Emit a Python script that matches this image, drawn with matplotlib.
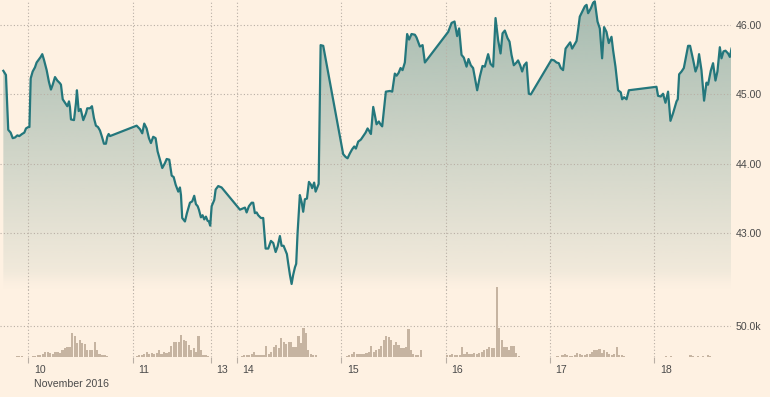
import numpy as np
import matplotlib
matplotlib.use("Agg")
import matplotlib.pyplot as plt
import matplotlib.transforms as mtransforms

plt.rcParams['font.family'] = ['Liberation Sans', 'DejaVu Sans']

# x axis in trading-session units: 0 = 10 Nov, 1 = 11 Nov, 2 = 14 Nov ...
DAY_POS = [0, 1, 1.75, 2, 3, 4, 5, 6]
DAY_LAB = ["10", "11", "13", "14", "15", "16", "17", "18"]

t = [-0.239,-0.214,-0.192,-0.169,-0.149,-0.127,-0.105,-0.086,-0.060,-0.038,-0.022,0.000,0.011,
     0.023,0.042,0.064,0.080,0.105,0.119,0.134,0.150,0.176,0.198,0.217,0.234,0.256,0.278,0.304,0.313,
     0.330,0.352,0.374,0.390,0.399,0.409,0.438,0.457,0.466,0.483,0.502,0.527,0.553,0.565,0.591,0.610,
     0.629,0.648,0.668,0.687,0.706,0.725,0.744,0.757,0.770,0.783,
     1.038,1.070,1.092,1.111,1.134,1.156,1.175,1.197,1.220,1.239,1.261,1.284,1.309,1.326,1.351,1.374,
     1.393,1.412,1.437,1.453,1.463,1.475,1.501,1.520,1.549,1.571,1.590,1.606,1.623,1.635,1.654,1.670,
     1.686,1.702,1.718,1.731,1.743,1.757,1.782,1.795,1.820,1.852,
     2.028,2.059,2.076,2.092,2.114,2.140,2.155,2.171,2.188,2.203,2.229,2.251,2.274,2.299,2.325,2.347,
     2.370,2.389,2.411,2.427,2.446,2.478,2.490,2.507,2.523,2.538,2.555,2.567,2.580,2.602,2.619,2.634,
     2.650,2.670,2.689,2.708,2.720,2.739,2.753,2.772,2.782,2.801,2.826,
     3.017,3.040,3.059,3.081,3.103,3.123,3.139,3.161,3.187,3.209,3.232,3.251,3.268,3.283,3.305,3.321,
     3.337,3.359,3.374,3.391,3.426,3.465,3.487,3.512,3.529,3.548,3.567,3.586,3.608,3.630,3.649,3.672,
     3.704,3.720,3.752,3.778,3.800,
     4.023,4.056,4.084,4.109,4.128,4.151,4.173,4.199,4.218,4.240,4.262,4.301,4.327,4.352,4.374,4.406,
     4.429,4.454,4.477,4.502,4.525,4.544,4.566,4.592,4.611,4.630,4.652,4.678,4.693,4.713,4.732,4.751,
     4.774,4.796,4.815,
     5.013,5.038,5.061,5.083,5.102,5.124,5.148,5.172,5.192,5.211,5.230,5.253,5.268,5.284,5.307,5.333,
     5.349,5.364,5.390,5.412,5.428,5.454,5.476,5.498,5.517,5.540,5.562,5.588,5.603,5.626,5.651,5.677,
     5.690,5.709,5.732,5.754,
     6.019,6.034,6.060,6.082,6.105,6.130,6.153,6.178,6.211,6.223,6.236,6.259,6.281,6.307,6.322,6.341,
     6.370,6.393,6.412,6.427,6.450,6.475,6.498,6.513,6.539,6.561,6.584,6.603,6.626,6.642,6.661,6.680,
     6.705,6.722,6.738]

price = [45.34,45.28,44.49,44.45,44.37,44.38,44.41,44.40,44.43,44.45,44.51,44.53,44.53,
         45.23,45.33,45.39,45.46,45.51,45.54,45.58,45.50,45.35,45.18,45.07,45.14,45.25,45.20,45.16,45.14,
         44.93,44.88,44.83,44.90,44.82,44.64,44.63,44.88,45.06,44.76,44.79,44.63,44.73,44.80,44.80,44.83,
         44.66,44.55,44.53,44.48,44.39,44.29,44.29,44.39,44.43,44.40,
         44.55,44.50,44.44,44.58,44.51,44.37,44.30,44.39,44.37,44.18,44.06,43.94,44.01,44.07,44.06,43.83,
         43.81,43.70,43.60,43.66,43.55,43.22,43.17,43.29,43.44,43.46,43.54,43.42,43.39,43.34,43.23,43.26,
         43.20,43.24,43.18,43.17,43.11,43.39,43.48,43.63,43.68,43.66,
         43.34,43.36,43.37,43.30,43.39,43.44,43.44,43.29,43.30,43.26,43.22,43.22,42.78,42.78,42.89,42.86,
         42.73,42.81,42.96,42.82,42.82,42.70,42.57,42.40,42.27,42.40,42.51,42.56,43.00,43.55,43.45,43.31,
         43.49,43.50,43.74,43.70,43.65,43.73,43.60,43.67,43.71,45.71,45.70,
         44.14,44.10,44.08,44.15,44.21,44.25,44.22,44.32,44.35,44.40,44.45,44.51,44.47,44.43,44.82,44.70,
         44.57,44.61,44.57,44.54,45.04,45.05,45.04,45.30,45.27,45.31,45.38,45.35,45.46,45.87,45.79,45.87,
         45.86,45.82,45.69,45.71,45.46,
         45.90,46.03,46.05,45.84,45.95,45.57,45.53,45.40,45.51,45.42,45.38,45.06,45.26,45.41,45.40,45.58,
         45.44,45.40,46.10,45.78,45.59,45.88,45.92,45.81,45.76,45.57,45.42,45.46,45.49,45.42,45.33,45.42,
         45.46,45.01,45.00,
         45.50,45.49,45.46,45.45,45.38,45.35,45.66,45.71,45.75,45.66,45.71,45.77,45.93,46.12,46.19,46.27,
         46.29,46.17,46.24,46.32,46.34,46.05,45.95,45.52,45.97,45.90,45.74,45.83,45.64,45.40,45.06,45.03,
         44.93,44.96,44.93,45.06,
         45.11,44.98,44.97,45.01,44.88,45.04,44.62,44.73,44.90,44.93,45.29,45.33,45.38,45.58,45.70,45.70,
         45.50,45.33,45.41,45.58,45.35,44.91,45.17,45.14,45.34,45.45,45.20,45.33,45.68,45.52,45.62,45.63,
         45.59,45.54,45.66]

# volume (thousands), one bar per interval, per session
VOL_START = [-0.239, 0.010, 1.006, 2.011, 3.017, 4.004, 5.013, 6.003]
VOL_STEP = 0.02366
vol_pre = [1,1,1,1,1,1.5,1.5,1.5,1,1]
vol_10 = [1,2,2,3,4,5,8,8,7,5,9,8,7,11,14,17,17,38,33,23,27,23,21,12,11,12,25,11,5,3,4,2,1]
vol_11 = [1,2,3,4,5,8,6,7,5,7,11,6,8,7,9,18,24,25,25,35,28,26,19,12,15,9,33,12,4,3,2,1,1]
vol_14 = [1,2,3,3,4,6,8,4,3,3,3,18,6,8,16,19,15,30,25,21,24,25,17,17,33,22,47,39,12,5,4,3,1,1,1]
vol_15 = [1,2,4,5,8,6,5,6,6,7,8,18,9,11,13,18,27,33,32,27,20,24,20,14,14,16,44,12,6,4,3,11,1,1]
vol_16 = [4,3,5,3,4,3,16,5,9,5,6,7,6,7,8,12,13,17,15,14,111,46,28,17,17,11,18,18,7,2,1,1,1,1,1]
vol_17 = [1,1,2,1,3,5,3,2,2,3,7,5,3,4,6,6,8,11,12,13,7,11,8,6,4,5,17,4,3,2,1,1]
vol_18 = [1,1,1,1,2,1,1.5,1,1,1,1,1,1,1,3,2,1,2,1,2,1,3,2,1,1,1,1,1,1]
vols = [vol_pre, vol_10, vol_11, vol_14, vol_15, vol_16, vol_17, vol_18]

PRICE_TICKS = [43, 44, 45, 46]
VOL_TICKS = [50]

BG = "#fef1e2"; LINE = "#24777c"; BAR = "#c6b4a1"; GRID = "#b9afa5"; TXT = "#4a4a4a"
W, H = 770, 397
XL = (-0.271, 6.733)

fig = plt.figure(figsize=(W/100, H/100), dpi=100, facecolor=BG)
axp = fig.add_axes([0, (H-290)/H, 731/W, 290/H])
axv = fig.add_axes([0, (H-357.3)/H, 731/W, (357.3-285)/H], sharex=axp)
for ax in (axp, axv):
    ax.set_facecolor("none")
    for s in ax.spines.values(): s.set_visible(False)
    ax.yaxis.tick_right()
    ax.tick_params(axis="y", length=0, pad=3.6, labelsize=7.6, labelcolor=TXT)
    ax.grid(True, color=GRID, ls=(0, (1, 2)), lw=0.8)
axv.grid(False, axis="x")

# ---- price ----
ylo, yhi = 42.183, 46.36
axp.set_ylim(ylo, yhi); axp.set_xlim(*XL)
poly = axp.fill_between(t, price, ylo, color="none", lw=0)
yy = np.linspace(ylo, yhi, 400)
a = np.interp(yy, [ylo, 42.30, 42.45, 42.75, 46.36], [0.0, 0.03, 0.09, 0.13, 0.62])
rgba = np.zeros((400, 1, 4))
rgba[:, 0, :3] = matplotlib.colors.to_rgb("#6f9a92")
rgba[:, 0, 3] = a
img = axp.imshow(rgba, extent=[t[0], t[-1], ylo, yhi], origin="lower", aspect="auto",
                 interpolation="bilinear", zorder=1)
img.set_clip_path(poly.get_paths()[0], transform=axp.transData)
axp.plot(t, price, color=LINE, lw=1.6, zorder=3, solid_joinstyle="round")
axp.set_yticks(PRICE_TICKS, [f"{v:.2f}" for v in PRICE_TICKS])
axp.tick_params(axis="x", length=0, labelbottom=False)
axp.set_xlim(*XL)

# vertical grid down to the volume baseline
for d in DAY_POS:
    axv.plot([d, d], [0, 1], transform=axv.get_xaxis_transform(), color=GRID,
             ls=(0, (1, 2)), lw=0.8, zorder=0)

# ---- volume ----
for st, v in zip(VOL_START, vols):
    xs = st + VOL_STEP*np.arange(len(v))
    axv.bar(xs, v, width=0.0205, align="edge", color=BAR, lw=0, zorder=2, clip_on=False)
axv.set_ylim(0, (357.3-285)/31.6*50)
axv.set_yticks(VOL_TICKS, [f"{v:.1f}k" for v in VOL_TICKS])
axv.set_xticks(DAY_POS, DAY_LAB)
axv.tick_params(axis="x", length=4.3, width=0.8, color=GRID, pad=1.5, labelsize=7.6, labelcolor=TXT)
off = mtransforms.ScaledTranslation(4/72, 0, fig.dpi_scale_trans)
for lab in axv.get_xticklabels():
    lab.set_horizontalalignment("left")
    lab.set_transform(lab.get_transform() + off)
axv.annotate("November 2016", xy=(0, 0), xycoords=("data", "axes fraction"),
             xytext=(4.3, -19.5), textcoords="offset points", ha="left", va="center",
             fontsize=7.6, color=TXT)
axv.set_xlim(*XL)

fig.savefig("out.png", dpi=100, facecolor=BG)
